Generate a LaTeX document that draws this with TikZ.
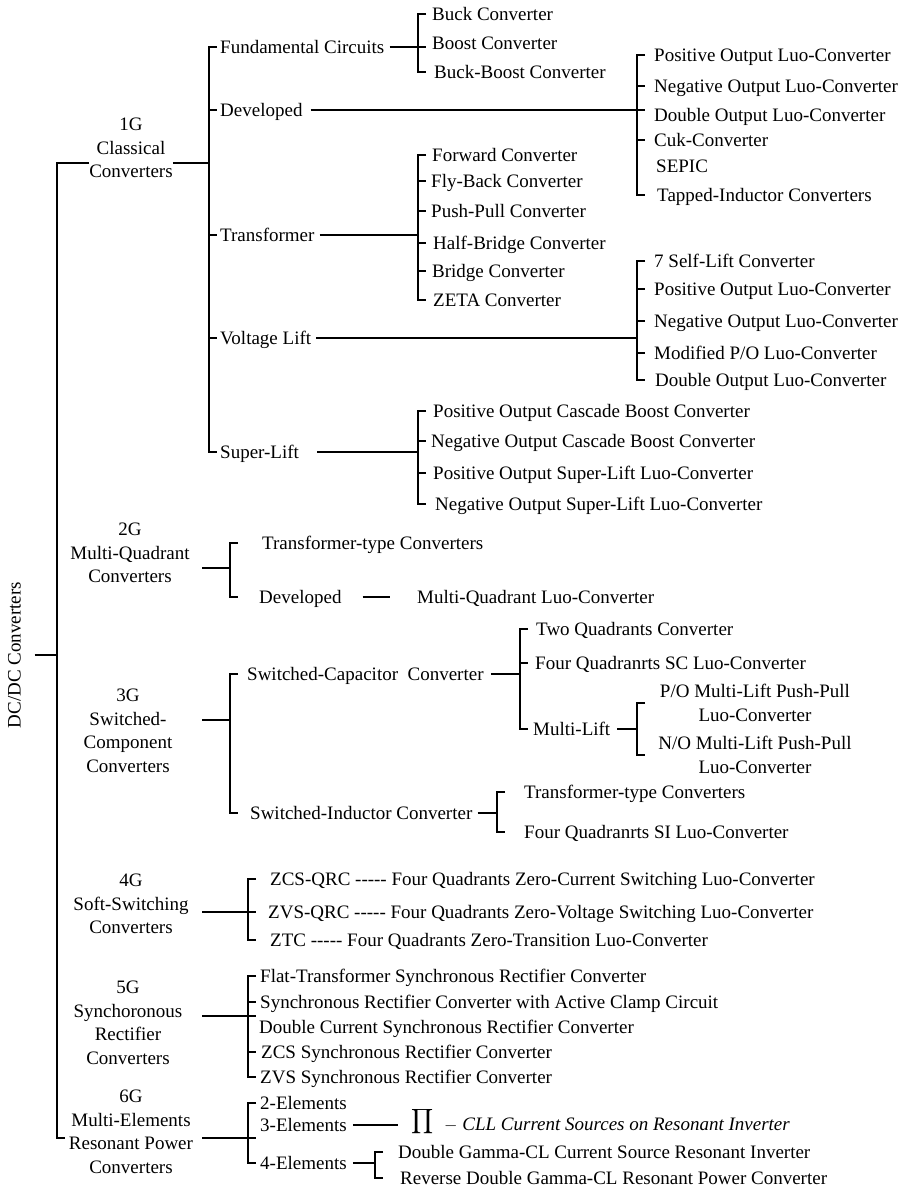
\documentclass[tikz,border=0pt]{standalone}
\usepackage{fontspec}
\usepackage{exscale}
\setmainfont{Liberation Serif}

% a hyphen that never joins into a dash
\newcommand\hy{\mbox{-}}
% spine coordinate of a bracket and the end of its ticks
\newcommand\barat[3]{\coordinate (#1) at (#2,#3); \coordinate (#1-tip) at (#2+8,#3);}
% bracket from first to last child
\newcommand\bracketbar[3]{\draw[wire] (#2.west -| #1-tip) -- (#2.west -| #1) -- (#3.west -| #1) -- (#3.west -| #1-tip);}
% short ticks for the children in between
\newcommand\bartick[2]{\foreach \c in {#2} {\draw[wire] (\c.west -| #1) -- (\c.west -| #1-tip);}}

\tikzset{
  every node/.style={font=\fontsize{19}{23.5}\selectfont, inner sep=0pt},
  leaf/.style={anchor=west, text height=16pt, text depth=4pt},
  genlabel/.style={align=center},
  wire/.style={line width=1.4pt},
  stemline/.style={wire, shorten <=5pt},
}

\begin{document}
\begin{tikzpicture}[x=1pt, y=-1pt]
\useasboundingbox (0,0) rectangle (909,1189);

% root
\node[rotate=90, text height=16pt, text depth=4pt] (dcdc) at (14.5,655) {DC/DC Converters};
\coordinate (root-mid) at (57,655);
\coordinate (root-top) at (57,163);
\coordinate (root-bot) at (57,1138);
\coordinate (root-end) at (65,1138);
\coordinate (gen-in) at (202,0);

% generations
\node[genlabel] (g1) at (131,148) {1G\\Classical\\Converters};
\node[genlabel] (g2) at (130,553) {2G\\Multi-Quadrant\\Converters};
\node[genlabel] (g3) at (128,731) {3G\\Switched-\\Component\\Converters};
\node[genlabel] (g4) at (131,904) {4G\\Soft-Switching\\Converters};
\node[genlabel] (g5) at (128,1023) {5G\\Synchoronous\\Rectifier\\Converters};
\node[genlabel] (g6) at (131,1132) {6G\\Multi-Elements\\Resonant Power\\Converters};

\draw[wire] (g1.west |- root-top) -- (root-top) -- (root-bot) -- (root-end);
\draw[wire, shorten <=10pt] (dcdc.south) -- (root-mid);

% 1G
\barat{c1-bar}{209}{163}
\node[leaf] (fc) at (220,47) {Fundamental Circuits};
\node[leaf] (dev1) at (220,110) {Developed};
\node[leaf] (tra) at (220,235) {Transformer};
\node[leaf] (vl) at (220,338) {Voltage Lift};
\node[leaf] (sl) at (220,452) {Super-Lift};
\draw[wire] (g1.east |- c1-bar) -- (c1-bar);
\bracketbar{c1-bar}{fc}{sl}
\bartick{c1-bar}{dev1,tra,vl}

\barat{fc-bar}{418}{47}
\node[leaf] (buck) at (432,14) {Buck Converter};
\node[leaf] (boost) at (432,43) {Boost Converter};
\node[leaf] (bboost) at (434,72) {Buck-Boost Converter};
\draw[stemline] (fc.east) -- (fc-bar-tip);
\bracketbar{fc-bar}{buck}{bboost}

\barat{dev1-bar}{637}{110}
\node[leaf] (pol1) at (654,55) {Positive Output Luo-Converter};
\node[leaf] (nol1) at (654,86) {Negative Output Luo-Converter};
\node[leaf] (dol1) at (654,115) {Double Output Luo-Converter};
\node[leaf] (cuk) at (654,140) {Cuk-Converter};
\node[leaf] (sepic) at (656,166) {SEPIC};
\node[leaf] (tapped) at (657,195) {Tapped-Inductor Converters};
\draw[stemline, shorten <=8pt] (dev1.east) -- (dev1-bar-tip);
\bracketbar{dev1-bar}{pol1}{tapped}
\bartick{dev1-bar}{nol1,cuk}

\barat{tra-bar}{418}{235}
\node[leaf] (fwd) at (432,155) {Forward Converter};
\node[leaf] (fly) at (431,181) {Fly-Back Converter};
\node[leaf] (pp) at (431,211) {Push-Pull Converter};
\node[leaf] (hb) at (433,243) {Half-Bridge Converter};
\node[leaf] (bri) at (432,271) {Bridge Converter};
\node[leaf] (zeta) at (433,300) {ZETA Converter};
\draw[stemline] (tra.east) -- (tra-bar);
\bracketbar{tra-bar}{fwd}{zeta}
\bartick{tra-bar}{fly,pp,hb,bri}

\barat{vl-bar}{637}{338}
\node[leaf] (sl7) at (654,261) {7 Self-Lift Converter};
\node[leaf] (pol2) at (654,289) {Positive Output Luo-Converter};
\node[leaf] (nol2) at (654,321) {Negative Output Luo-Converter};
\node[leaf] (mpo) at (654,353) {Modified P/O Luo-Converter};
\node[leaf] (dol2) at (655,380) {Double Output Luo-Converter};
\draw[stemline] (vl.east) -- (vl-bar);
\bracketbar{vl-bar}{sl7}{dol2}
\bartick{vl-bar}{pol2,nol2,mpo}

\barat{sl-bar}{418}{452}
\node[leaf] (pocb) at (433,411) {Positive Output Cascade Boost Converter};
\node[leaf] (nocb) at (431,441) {Negative Output Cascade Boost Converter};
\node[leaf] (posl) at (433,473) {Positive Output Super-Lift Luo-Converter};
\node[leaf] (nosl) at (435,504) {Negative Output Super-Lift Luo-Converter};
\draw[stemline, shorten <=18pt] (sl.east) -- (sl-bar);
\bracketbar{sl-bar}{pocb}{nosl}
\bartick{sl-bar}{nocb,posl}

% 2G
\barat{g2-bar}{230}{568}
\node[leaf] (tt2) at (262,543) {Transformer-type Converters};
\node[leaf] (dev2) at (259,597) {Developed};
\node[leaf] (mql) at (417,597) {Multi-Quadrant Luo-Converter};
\draw[wire] (g2-bar -| gen-in) -- (g2-bar);
\bracketbar{g2-bar}{tt2}{dev2}
\draw[wire, shorten <=21pt, shorten >=27pt] (dev2.east) -- (mql.west);

% 3G
\barat{g3-bar}{230}{720}
\node[leaf] (scc) at (247,674) {Switched-Capacitor\ \ Converter};
\node[leaf] (sic) at (250,813) {Switched-Inductor Converter};
\draw[wire] (g3-bar -| gen-in) -- (g3-bar);
\bracketbar{g3-bar}{scc}{sic}

\barat{scc-bar}{520}{674}
\node[leaf] (twoq) at (536,629) {Two Quadrants Converter};
\node[leaf] (fqsc) at (535,663) {Four Quadranrts SC Luo-Converter};
\node[leaf] (ml) at (533,729) {Multi-Lift};
\draw[stemline, shorten <=7pt] (scc.east) -- (scc-bar);
\bracketbar{scc-bar}{twoq}{ml}
\bartick{scc-bar}{fqsc}

\barat{ml-bar}{637}{729}
\node[genlabel] (po) at (755,703) {P/O Multi-Lift Push-Pull\\Luo-Converter};
\node[genlabel] (no) at (755,755) {N/O Multi-Lift Push-Pull\\Luo-Converter};
\draw[stemline, shorten <=7pt] (ml.east) -- (ml-bar);
\bracketbar{ml-bar}{po}{no}

\barat{sic-bar}{497}{813}
\node[leaf] (tt3) at (524,792) {Transformer-type Converters};
\node[leaf] (fqsi) at (524,832) {Four Quadranrts SI Luo-Converter};
\draw[stemline] (sic.east) -- (sic-bar);
\bracketbar{sic-bar}{tt3}{fqsi}

% 4G
\barat{g4-bar}{248}{912}
\node[leaf] (zcs) at (270,879) {ZCS-QRC \hy\hy\hy\hy\hy{} Four Quadrants Zero-Current Switching Luo-Converter};
\node[leaf] (zvs) at (268,912) {ZVS-QRC \hy\hy\hy\hy\hy{} Four Quadrants Zero-Voltage Switching Luo-Converter};
\node[leaf] (ztc) at (270,940) {ZTC \hy\hy\hy\hy\hy{} Four Quadrants Zero-Transition Luo-Converter};
\draw[wire] (g4-bar -| gen-in) -- (g4-bar-tip);
\bracketbar{g4-bar}{zcs}{ztc}

% 5G
\barat{g5-bar}{248}{1016}
\node[leaf] (ftsr) at (260,976) {Flat-Transformer Synchronous Rectifier Converter};
\node[leaf] (srac) at (260,1002) {Synchronous Rectifier Converter with Active Clamp Circuit};
\node[leaf] (dcsr) at (259,1027) {Double Current Synchronous Rectifier Converter};
\node[leaf] (zcssr) at (261,1052) {ZCS Synchronous Rectifier Converter};
\node[leaf] (zvssr) at (260,1077) {ZVS Synchronous Rectifier Converter};
\draw[wire] (g5-bar -| gen-in) -- (g5-bar-tip);
\bracketbar{g5-bar}{ftsr}{zvssr}
\bartick{g5-bar}{srac,zcssr}

% 6G
\barat{g6-bar}{248}{1138}
\node[leaf] (el2) at (260,1103) {2-Elements};
\node[leaf] (el3) at (260,1125) {3-Elements};
\node[leaf] (el4) at (260,1163) {4-Elements};
\draw[wire] (g6-bar -| gen-in) -- (g6-bar-tip);
\bracketbar{g6-bar}{el2}{el4}

\node (pi) at (423,1122) {$\displaystyle\prod$};
\node[leaf] (cll) at (444,1124) {$-$\ \textit{CLL Current Sources on Resonant Inverter}};
\draw[wire, shorten <=6pt, shorten >=14pt] (el3.east) -- (el3.east -| pi.west);

\barat{el4-bar}{375}{1163}
\node[leaf] (dgcl) at (398,1152) {Double Gamma-CL Current Source Resonant Inverter};
\node[leaf] (rdgcl) at (400,1178) {Reverse Double Gamma-CL Resonant Power Converter};
\draw[stemline, shorten <=6pt] (el4.east) -- (el4-bar);
\bracketbar{el4-bar}{dgcl}{rdgcl}
\end{tikzpicture}
\end{document}
